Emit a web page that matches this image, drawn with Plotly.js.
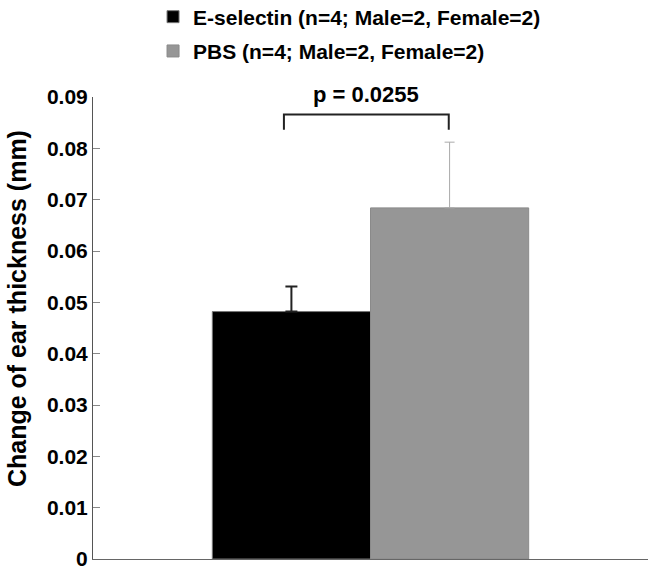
<!DOCTYPE html>
<html>
<head>
<meta charset="utf-8">
<script src="https://cdn.plot.ly/plotly-3.0.1.min.js"></script>
<style>html,body{margin:0;padding:0;background:#fff;}#chart{width:654px;height:571px;}</style>
</head>
<body>
<div id="chart"></div>
<script>
// Data
var groups = ["E-selectin (n=4; Male=2, Female=2)", "PBS (n=4; Male=2, Female=2)"];
var category = [""];
var eselectinMean = [0.0482];
var eselectinSEM = [0.0049];
var pbsMean = [0.0684];
var pbsSEM = [0.0128];
var yTickVals = [0, 0.01, 0.02, 0.03, 0.04, 0.05, 0.06, 0.07, 0.08, 0.09];
var yTickText = ["0", "0.01", "0.02", "0.03", "0.04", "0.05", "0.06", "0.07", "0.08", "0.09"];
var yTitleText = "Change of ear thickness (mm)";
var pValueText = "p = 0.0255";
var bracketY = 0.0866;
var bracketTipY = 0.0836;

var FONT = "Liberation Sans, Arial, Helvetica, sans-serif";

var traces = [
  {
    type: "bar", name: groups[0], x: category, y: eselectinMean,
    marker: {color: "#000000", line: {color: "#777777", width: 1}},
    error_y: {type: "data", symmetric: false, array: eselectinSEM, arrayminus: [0],
              color: "#222222", thickness: 2, width: 6},
    legendgroup: "a", hoverinfo: "none"
  },
  {
    type: "bar", name: groups[1], x: category, y: pbsMean,
    marker: {color: "#969696", line: {color: "#8a8a8a", width: 1}},
    error_y: {type: "data", symmetric: false, array: pbsSEM, arrayminus: [0],
              color: "#aaaaaa", thickness: 1, width: 5},
    legendgroup: "b", hoverinfo: "none"
  }
];

var layout = {
  width: 654, height: 571,
  margin: {l: 93, r: 6, t: 97, b: 12, autoexpand: false},
  paper_bgcolor: "#ffffff", plot_bgcolor: "#ffffff",
  font: {family: FONT, color: "#000000"},
  barmode: "group", bargap: 0.43, bargroupgap: 0,
  showlegend: true,
  legend: {
    xref: "container", yref: "paper", x: 0.234, y: 1.2175,
    xanchor: "left", yanchor: "top",
    font: {family: FONT, size: 21, weight: "bold", color: "#000"},
    tracegroupgap: 4, itemwidth: 30, bgcolor: "rgba(0,0,0,0)"
  },
  xaxis: {
    type: "category", range: [-0.5, 0.5], showline: true, linecolor: "#666666", linewidth: 1,
    ticks: "", showticklabels: false, showgrid: false, zeroline: false, fixedrange: true
  },
  yaxis: {
    range: [0, 0.09], tickmode: "array", tickvals: yTickVals, ticktext: yTickText,
    ticks: "inside", ticklen: 7, tickwidth: 1, tickcolor: "#888888",
    showline: true, linecolor: "#555555", linewidth: 1,
    showgrid: false, zeroline: false,
    tickfont: {family: FONT, size: 21, weight: "bold", color: "#000"},
    fixedrange: true
  },
  shapes: [
    {type: "path", xref: "paper", yref: "y",
     path: "M 0.344 " + bracketTipY + " L 0.344 " + bracketY + " L 0.641 " + bracketY + " L 0.641 " + bracketTipY,
     line: {color: "#222222", width: 2}}
  ],
  annotations: [
    {xref: "paper", yref: "y", x: 0.4925, y: bracketY, yanchor: "bottom", xanchor: "center",
     yshift: 5, showarrow: false, text: pValueText,
     font: {family: FONT, size: 22, weight: "bold", color: "#000"}},
    {xref: "paper", yref: "paper", x: -0.137, y: 0.543,
     xanchor: "center", yanchor: "middle", textangle: -90, showarrow: false,
     text: yTitleText, font: {family: FONT, size: 25, weight: "bold", color: "#000"}}
  ]
};

Plotly.newPlot("chart", traces, layout, {displayModeBar: false, staticPlot: true});
</script>
</body>
</html>
